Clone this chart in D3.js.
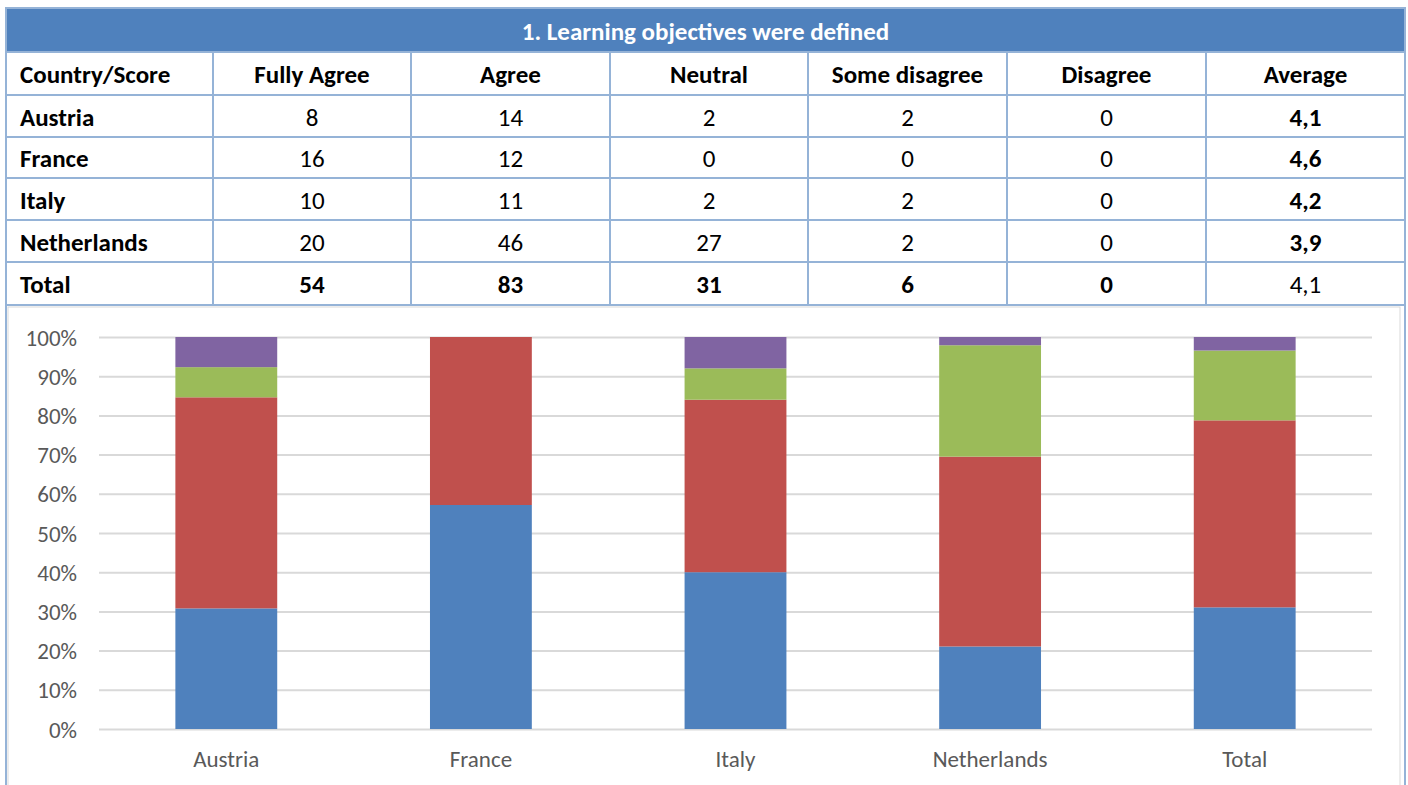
<!DOCTYPE html>
<html>
<head>
  <meta charset="utf-8">
  <title>Learning objectives</title>
  <script src="https://d3js.org/d3.v7.min.js"></script>
  <style>
    body { margin: 0; background: #fff; }
    svg text { font-family: Carlito, Calibri, Lato, sans-serif; }
    .grid line { stroke: #d9d9d9; stroke-width: 2; }
    .grid path { display: none; }
    .axis text { fill: #595959; font-size: 23px; }
    .axis path, .axis line { display: none; }
  </style>
</head>
<body>
<svg id="chart"></svg>
<script>
  // data
  const title = "1. Learning objectives were defined";
  const headers = ["Country/Score", "Fully Agree", "Agree", "Neutral", "Some disagree", "Disagree", "Average"];
  const countries = ["Austria", "France", "Italy", "Netherlands", "Total"];
  const fullyAgree = [8, 16, 10, 20, 54];
  const agree = [14, 12, 11, 46, 83];
  const neutral = [2, 0, 2, 27, 31];
  const someDisagree = [2, 0, 2, 2, 6];
  const disagree = [0, 0, 0, 0, 0];
  const averages = ["4,1", "4,6", "4,2", "3,9", "4,1"];
  const yTicks = [0, 0.1, 0.2, 0.3, 0.4, 0.5, 0.6, 0.7, 0.8, 0.9, 1];

  const seriesNames = ["Fully Agree", "Agree", "Neutral", "Some disagree", "Disagree"];
  const seriesVals = [fullyAgree, agree, neutral, someDisagree, disagree];
  const colors = ["#4f81bd", "#c0504d", "#9bbb59", "#8064a2", "#f79646"];

  const W = 1408, H = 785;
  const svg = d3.select("#chart").attr("width", W).attr("height", H);

  // ---- table ----
  const colX = [6, 213, 411, 610, 808, 1007, 1206, 1405];
  const rowY = [8, 52, 95, 137, 178, 220, 262, 305];
  const border = "#95b3d7";
  const fs = 25;

  svg.append("rect")
    .attr("x", colX[0]).attr("y", rowY[0])
    .attr("width", colX[7] - colX[0]).attr("height", rowY[1] - rowY[0])
    .attr("fill", "#4f81bd");

  svg.append("text")
    .attr("x", (colX[0] + colX[7]) / 2).attr("y", (rowY[0] + rowY[1]) / 2 + 1)
    .attr("text-anchor", "middle").attr("dominant-baseline", "central")
    .attr("fill", "#fff").attr("font-weight", "bold").attr("font-size", fs)
    .text(title);

  // table rows: header + countries
  const rows = [headers].concat(countries.map((c, i) =>
    [c].concat(seriesVals.map(v => String(v[i]))).concat([averages[i]])));

  rows.forEach((r, ri) => {
    const y0 = rowY[ri + 1], y1 = rowY[ri + 2];
    r.forEach((cell, ci) => {
      let bold = ri === 0 || ci === 0 || ci === 6;
      if (ri === rows.length - 1) bold = ci !== 6;
      svg.append("text")
        .attr("x", ci === 0 ? colX[0] + 14 : (colX[ci] + colX[ci + 1]) / 2)
        .attr("y", (y0 + y1) / 2 + 1)
        .attr("text-anchor", ci === 0 ? "start" : "middle")
        .attr("dominant-baseline", "central")
        .attr("font-size", fs)
        .attr("font-weight", bold ? "bold" : "normal")
        .attr("fill", "#000")
        .text(cell);
    });
  });

  // table lines
  rowY.slice(1).forEach(y => {
    svg.append("line").attr("x1", colX[0]).attr("x2", colX[7])
      .attr("y1", y).attr("y2", y).attr("stroke", border).attr("stroke-width", 2);
  });
  colX.slice(1, 7).forEach(x => {
    svg.append("line").attr("x1", x).attr("x2", x)
      .attr("y1", rowY[1]).attr("y2", rowY[7]).attr("stroke", border).attr("stroke-width", 2);
  });
  svg.append("rect")
    .attr("x", colX[0]).attr("y", rowY[0])
    .attr("width", colX[7] - colX[0]).attr("height", rowY[7] - rowY[0])
    .attr("fill", "none").attr("stroke", border).attr("stroke-width", 2);

  // ---- chart frame ----
  svg.append("rect")
    .attr("x", 8).attr("y", 307).attr("width", 1392).attr("height", 490)
    .attr("fill", "none").attr("stroke", "#d9d9d9").attr("stroke-width", 1);
  [colX[0], colX[7]].forEach(x => {
    svg.append("line").attr("x1", x).attr("x2", x).attr("y1", rowY[7]).attr("y2", H)
      .attr("stroke", border).attr("stroke-width", 2);
  });

  // ---- stacked 100% bars ----
  const plot = { left: 99, right: 1372, top: 337, bottom: 729 };

  const x = d3.scaleBand()
    .domain(countries)
    .range([plot.left, plot.right])
    .paddingInner(0.6)
    .paddingOuter(0.3);

  const y = d3.scaleLinear().domain([0, 1]).range([plot.bottom, plot.top]);

  const table = countries.map((c, i) => {
    const o = { country: c };
    const tot = d3.sum(seriesVals, v => v[i]);
    seriesNames.forEach((s, k) => { o[s] = seriesVals[k][i] / tot; });
    return o;
  });

  const stacked = d3.stack().keys(seriesNames)(table);

  svg.append("g").attr("class", "grid")
    .attr("transform", `translate(${plot.left},0)`)
    .call(d3.axisLeft(y).tickValues(yTicks).tickSize(-(plot.right - plot.left)).tickFormat(""));

  svg.append("g").attr("class", "axis")
    .attr("transform", `translate(${plot.left - 22},0)`)
    .call(d3.axisLeft(y).tickValues(yTicks).tickSize(0).tickPadding(0).tickFormat(d3.format(".0%")))
    .selectAll("text").attr("dy", "0.35em");

  svg.append("g").selectAll("g")
    .data(stacked)
    .join("g")
    .attr("fill", (d, i) => colors[i])
    .selectAll("rect")
    .data(d => d)
    .join("rect")
    .attr("x", d => x(d.data.country))
    .attr("width", x.bandwidth())
    .attr("y", d => y(d[1]))
    .attr("height", d => y(d[0]) - y(d[1]));

  svg.append("g").attr("class", "axis")
    .attr("transform", `translate(0,${plot.bottom + 20})`)
    .call(d3.axisBottom(x).tickSize(0).tickPadding(0))
    .selectAll("text").attr("dy", "0.8em");
</script>
</body>
</html>
